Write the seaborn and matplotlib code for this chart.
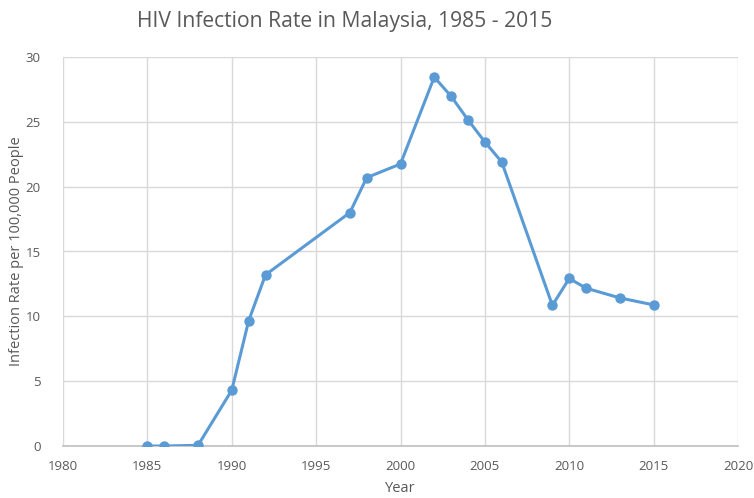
import matplotlib
matplotlib.use("Agg")
import matplotlib.pyplot as plt
import seaborn as sns
import pandas as pd

years = [1985, 1986, 1988, 1990, 1991, 1992, 1997, 1998, 2000, 2002, 2003,
         2004, 2005, 2006, 2009, 2010, 2011, 2013, 2015]
rates = [0.0, 0.0, 0.05, 4.3, 9.65, 13.2, 18.0, 20.7, 21.75, 28.45, 26.97,
         25.15, 23.45, 21.9, 10.85, 12.92, 12.17, 11.42, 10.88]
x_ticks = [1980, 1985, 1990, 1995, 2000, 2005, 2010, 2015, 2020]
y_ticks = [0, 5, 10, 15, 20, 25, 30]

df = pd.DataFrame({"Year": years, "Rate": rates})

sns.set_theme(style="white")
plt.rcParams['font.family'] = ['Open Sans', 'DejaVu Sans']

fig = plt.figure(figsize=(7.54, 4.98), dpi=100)
ax = fig.add_axes([63/754, 1-446/498, (738-63)/754, (446-57)/498])

sns.lineplot(data=df, x="Year", y="Rate", ax=ax, color="#5b9bd5", linewidth=2.2,
             marker="o", markersize=7.5, markeredgewidth=0, zorder=3)

ax.set_xlim(1980, 2020)
ax.set_ylim(0, 30)
ax.set_xticks(x_ticks)
ax.set_yticks(y_ticks)
ax.grid(True, color="#d9d9d9", linewidth=1)
ax.set_axisbelow(True)
for s in ["top", "right", "left"]:
    ax.spines[s].set_visible(False)
ax.spines["bottom"].set_color("#bfbfbf")
ax.spines["bottom"].set_linewidth(1.2)
ax.spines["bottom"].set_zorder(2.5)
ax.tick_params(axis="both", length=0, labelsize=9.5, colors="#595959")
ax.tick_params(axis="x", pad=10)
ax.tick_params(axis="y", pad=16)

ax.set_xlabel("Year", fontsize=10.5, color="#595959", labelpad=6)
ax.set_ylabel("Infection Rate per 100,000 People", fontsize=10.5, color="#595959", labelpad=1)
fig.text(345/754, 1 - 21/498, "HIV Infection Rate in Malaysia, 1985 - 2015",
         ha="center", va="center", fontsize=15.2, color="#595959")

fig.savefig("out.png", dpi=100)
